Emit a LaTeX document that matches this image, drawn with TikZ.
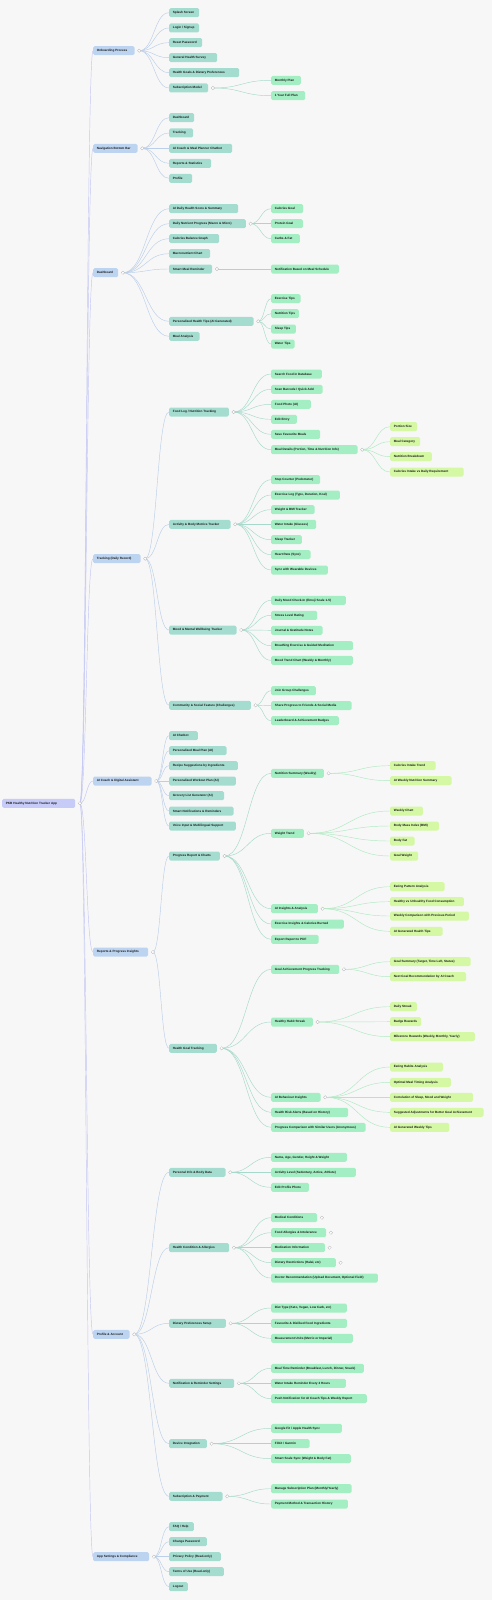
\documentclass[tikz,border=0pt]{standalone}
\usepackage{fontspec}
\setmainfont{Liberation Sans}
\usetikzlibrary{calc}
\definecolor{bgc}{HTML}{F7F7F7}
\definecolor{rootc}{HTML}{C7CBF7}
\definecolor{onec}{HTML}{BDD4F1}
\definecolor{twoc}{HTML}{A4DDD0}
\definecolor{threec}{HTML}{A4EEC3}
\definecolor{fourc}{HTML}{D4F8A4}
\definecolor{lzero}{HTML}{C3C7F4}
\definecolor{lone}{HTML}{BBCFEA}
\definecolor{ltwo}{HTML}{A6D9CB}
\definecolor{lthree}{HTML}{AEE9C2}
\tikzset{
  box/.style={anchor=west, rounded corners=1.5pt, minimum height=9, inner xsep=3.7, inner ysep=0,
    font=\fontsize{3.1}{4}\selectfont\bfseries, text=black!90},
  root/.style={box, fill=rootc},
  lvone/.style={box, fill=onec},
  lvtwo/.style={box, fill=twoc},
  lvthree/.style={box, fill=threec},
  lvfour/.style={box, fill=fourc},
  wd/.style={minimum width=#1,
    execute at begin node={\hbox to \dimexpr#1pt-7.4pt\relax\bgroup},
    execute at end node={\hss\egroup}},
  mm/.style={line width=0.45pt, to path={let \p1=(\tikztostart), \p2=(\tikztotarget) in
    .. controls ({(\x1+\x2)/2},\y1) and ({(\x1+\x2)/2},\y2) .. (\tikztotarget)}},
  lkzero/.style={mm, draw=lzero},
  lkone/.style={mm, draw=lone},
  lktwo/.style={mm, draw=ltwo},
  lkthree/.style={mm, draw=lthree},
  marker/.style={circle, draw=gray!55, fill=white, inner sep=0, minimum size=3.4, line width=0.3}
}
\begin{document}
\begin{tikzpicture}[x=1pt,y=-1pt]
  \fill[bgc] (0,0) rectangle (492,1600);
  \useasboundingbox (0,0) rectangle (492,1600);

  % root
  \node[root, wd=73] (pkb) at (2,803.3) {PKB Healthy Nutrition Tracker App};

  % main branches
  \node[lvone, wd=41.3] (on) at (93,50.7) {Onboarding Process};
  \node[lvone, wd=44.3] (nv) at (93,148.3) {Navigation Bottom Bar};
  \node[lvone, wd=25] (db) at (93,272.7) {Dashboard};
  \node[lvone, wd=47.3] (tr) at (93,558.7) {Tracking (Daily Record)};
  \node[lvone, wd=58.3] (ai) at (93,781) {AI Coach \& Digital Assistant};
  \node[lvone, wd=55] (rp) at (93,952) {Reports \& Progress Insights};
  \node[lvone, wd=36.3] (pf) at (93,1334.3) {Profile \& Account};
  \node[lvone, wd=56] (st) at (93,1556.7) {App Settings \& Compliance};

  % Onboarding
  \node[lvtwo, wd=30] (on1) at (169,12.7) {Splash Screen};
  \node[lvtwo, wd=30] (on2) at (169,28) {Login / Signup};
  \node[lvtwo, wd=33] (on3) at (169,42.7) {Reset Password};
  \node[lvtwo, wd=48] (on4) at (169,57.7) {General Health Survey};
  \node[lvtwo, wd=70] (on5) at (169,72.7) {Health Goals \& Dietary Preferences};
  \node[lvtwo, wd=39] (on6) at (169,88) {Subscription Model};
  \node[lvthree, wd=29.7] (on6a) at (271,80.3) {Monthly Plan};
  \node[lvthree, wd=34] (on6b) at (271,95.7) {1 Year Full Plan};

  % Navigation
  \node[lvtwo, wd=25] (nv1) at (169,117.7) {Dashboard};
  \node[lvtwo, wd=24] (nv2) at (169,133) {Tracking};
  \node[lvtwo, wd=63] (nv3) at (169,148.3) {AI Coach \& Meal Planner Chatbot};
  \node[lvtwo, wd=42] (nv4) at (169,163.3) {Reports \& Statistics};
  \node[lvtwo, wd=23] (nv5) at (169,178.3) {Profile};

  % Dashboard
  \node[lvtwo, wd=69] (db1) at (169,208.7) {AI Daily Health Score \& Summary};
  \node[lvtwo, wd=76.7] (db2) at (169,223.7) {Daily Nutrient Progress (Macro \& Micro)};
  \node[lvthree, wd=32] (db2a) at (271,208.7) {Calories Goal};
  \node[lvthree, wd=31.7] (db2b) at (271,223.7) {Protein Goal};
  \node[lvthree, wd=28.7] (db2c) at (271,238.7) {Carbs \& Fat};
  \node[lvtwo, wd=50] (db3) at (169,238.7) {Calories Balance Graph};
  \node[lvtwo, wd=41] (db4) at (169,253.7) {Macronutrient Chart};
  \node[lvtwo, wd=43] (db5) at (169,269) {Smart Meal Reminder};
  \node[lvthree, wd=67.7] (db5a) at (271,269) {Notification Based on Meal Schedule};
  \node[lvtwo, wd=84.3] (db6) at (169,321.3) {Personalized Health Tips (AI Generated)};
  \node[lvthree, wd=29.3] (db6a) at (271,298.7) {Exercise Tips};
  \node[lvthree, wd=27.7] (db6b) at (271,313.7) {Nutrition Tips};
  \node[lvthree, wd=24.7] (db6c) at (271,329) {Sleep Tips};
  \node[lvthree, wd=23.3] (db6d) at (271,344) {Water Tips};
  \node[lvtwo, wd=30.3] (db7) at (169,336.3) {Meal Analysis};

  % Tracking
  \node[lvtwo, wd=59.7] (tr1) at (169,412) {Food Log / Nutrition Tracking};
  \node[lvthree, wd=50.7] (tr1a) at (271,374) {Search Food in Database};
  \node[lvthree, wd=51.3] (tr1b) at (271,389.3) {Scan Barcode / Quick Add};
  \node[lvthree, wd=39.7] (tr1c) at (271,404.3) {Food Photo (AI)};
  \node[lvthree, wd=25.7] (tr1d) at (271,419.3) {Edit Entry};
  \node[lvthree, wd=49] (tr1e) at (271,434.3) {Save Favourite Meals};
  \node[lvthree, wd=86.3] (tr1f) at (271,449.7) {Meal Details (Portion, Time \& Nutrition Info)};
  \node[lvfour, wd=27] (tr1f1) at (390,426.7) {Portion Size};
  \node[lvfour, wd=30] (tr1f2) at (390,441.7) {Meal Category};
  \node[lvfour, wd=41.7] (tr1f3) at (390,456.7) {Nutrition Breakdown};
  \node[lvfour, wd=73.3] (tr1f4) at (390,472) {Calories Intake vs Daily Requirement};
  \node[lvtwo, wd=61.3] (tr2) at (169,524.3) {Activity \& Body Metrics Tracker};
  \node[lvthree, wd=49] (tr2a) at (271,479.7) {Step Counter (Pedometer)};
  \node[lvthree, wd=68.7] (tr2b) at (271,495) {Exercise Log (Type, Duration, Kcal)};
  \node[lvthree, wd=43.3] (tr2c) at (271,509.7) {Weight \& BMI Tracker};
  \node[lvthree, wd=45] (tr2d) at (271,524.3) {Water Intake (Glasses)};
  \node[lvthree, wd=30.7] (tr2e) at (271,539.7) {Sleep Tracker};
  \node[lvthree, wd=39.3] (tr2f) at (271,554.7) {Heart Rate (Sync)};
  \node[lvthree, wd=56.7] (tr2g) at (271,570) {Sync with Wearable Devices};
  \node[lvtwo, wd=67.3] (tr3) at (169,630) {Mood \& Mental Wellbeing Tracker};
  \node[lvthree, wd=74.7] (tr3a) at (271,600.3) {Daily Mood Check-In (Emoji Scale 1-5)};
  \node[lvthree, wd=46] (tr3b) at (271,615.3) {Stress Level Rating};
  \node[lvthree, wd=51.3] (tr3c) at (271,630.3) {Journal \& Gratitude Notes};
  \node[lvthree, wd=81.7] (tr3d) at (271,645.7) {Breathing Exercise \& Guided Meditation};
  \node[lvthree, wd=81.7] (tr3e) at (271,660.3) {Mood Trend Chart (Weekly \& Monthly)};
  \node[lvtwo, wd=81.7] (tr4) at (169,705.3) {Community \& Social Feature (Challenges)};
  \node[lvthree, wd=44.7] (tr4a) at (271,690.7) {Join Group Challenges};
  \node[lvthree, wd=80.3] (tr4b) at (271,705.7) {Share Progress to Friends \& Social Media};
  \node[lvthree, wd=67.7] (tr4c) at (271,720.7) {Leaderboard \& Achievement Badges};

  % AI Coach
  \node[lvtwo, wd=28.7] (ai1) at (169,735.7) {AI Chatbot};
  \node[lvtwo, wd=57.3] (ai2) at (169,750.7) {Personalized Meal Plan (AI)};
  \node[lvtwo, wd=68.7] (ai3) at (169,765.7) {Recipe Suggestions by Ingredients};
  \node[lvtwo, wd=66.7] (ai4) at (169,781) {Personalized Workout Plan (AI)};
  \node[lvtwo, wd=55] (ai5) at (169,795.7) {Grocery List Generator (AI)};
  \node[lvtwo, wd=64.3] (ai6) at (169,811) {Smart Notifications \& Reminders};
  \node[lvtwo, wd=66.7] (ai7) at (169,826) {Voice Input \& Multilingual Support};

  % Reports
  \node[lvtwo, wd=50.7] (rp1) at (169,856) {Progress Report \& Charts};
  \node[lvthree, wd=52.7] (rp1a) at (271,773.3) {Nutrition Summary (Weekly)};
  \node[lvfour, wd=45.3] (rp1a1) at (390,765.7) {Calories Intake Trend};
  \node[lvfour, wd=61.3] (rp1a2) at (390,780.7) {AI Weekly Nutrition Summary};
  \node[lvthree, wd=32.7] (rp1b) at (271,833.3) {Weight Trend};
  \node[lvfour, wd=32.7] (rp1b1) at (390,811) {Weekly Chart};
  \node[lvfour, wd=48.7] (rp1b2) at (390,826) {Body Mass Index (BMI)};
  \node[lvfour, wd=24.3] (rp1b3) at (390,841) {Body Fat};
  \node[lvfour, wd=28] (rp1b4) at (390,856) {Goal Weight};
  \node[lvthree, wd=46.7] (rp1c) at (271,908.7) {AI Insights \& Analysis};
  \node[lvfour, wd=54.3] (rp1c1) at (390,886.7) {Eating Pattern Analysis};
  \node[lvfour, wd=73.7] (rp1c2) at (390,901.7) {Healthy vs Unhealthy Food Consumption};
  \node[lvfour, wd=78.7] (rp1c3) at (390,916) {Weekly Comparison with Previous Period};
  \node[lvfour, wd=52.3] (rp1c4) at (390,931.3) {AI Generated Health Tips};
  \node[lvthree, wd=72.7] (rp1d) at (271,924) {Exercise Insights \& Calories Burned};
  \node[lvthree, wd=47.3] (rp1e) at (271,939.3) {Export Report to PDF};
  \node[lvtwo, wd=47.7] (rp2) at (169,1048.3) {Health Goal Tracking};
  \node[lvthree, wd=68] (rp2a) at (271,969.3) {Goal Achievement Progress Tracking};
  \node[lvfour, wd=80.3] (rp2a1) at (390,961.7) {Goal Summary (Target, Time Left, Status)};
  \node[lvfour, wd=76] (rp2a2) at (390,976.7) {Next Goal Recommendation by AI Coach};
  \node[lvthree, wd=41.7] (rp2b) at (271,1022) {Healthy Habit Streak};
  \node[lvfour, wd=26.7] (rp2b1) at (390,1006.7) {Daily Streak};
  \node[lvfour, wd=31] (rp2b2) at (390,1021.7) {Badge Rewards};
  \node[lvfour, wd=84.7] (rp2b3) at (390,1036.7) {Milestone Rewards (Weekly, Monthly, Yearly)};
  \node[lvthree, wd=49.3] (rp2c) at (271,1097.3) {AI Behaviour Insights};
  \node[lvfour, wd=52.7] (rp2c1) at (390,1067) {Eating Habits Analysis};
  \node[lvfour, wd=60.7] (rp2c2) at (390,1082.3) {Optimal Meal Timing Analysis};
  \node[lvfour, wd=82.7] (rp2c3) at (390,1097.3) {Correlation of Sleep, Mood and Weight};
  \node[lvfour, wd=93.3] (rp2c4) at (390,1112.3) {Suggested Adjustments for Better Goal Achievement};
  \node[lvfour, wd=59] (rp2c5) at (390,1127.3) {AI Generated Weekly Tips};
  \node[lvthree, wd=77] (rp2d) at (271,1112.3) {Health Risk Alerts (Based on History)};
  \node[lvthree, wd=94.3] (rp2e) at (271,1127.3) {Progress Comparison with Similar Users (Anonymous)};

  % Profile
  \node[lvtwo, wd=56.3] (pf1) at (169,1172.3) {Personal Info \& Body Data};
  \node[lvthree, wd=75.7] (pf1a) at (271,1157.3) {Name, Age, Gender, Height \& Weight};
  \node[lvthree, wd=84.7] (pf1b) at (271,1172.3) {Activity Level (Sedentary, Active, Athlete)};
  \node[lvthree, wd=37.7] (pf1c) at (271,1187.3) {Edit Profile Photo};
  \node[lvtwo, wd=60] (pf2) at (169,1247.7) {Health Condition \& Allergies};
  \node[lvthree, wd=46] (pf2a) at (271,1217.7) {Medical Conditions};
  \node[lvthree, wd=55] (pf2b) at (271,1232.7) {Food Allergies \& Intolerance};
  \node[lvthree, wd=53.7] (pf2c) at (271,1247.7) {Medication Information};
  \node[lvthree, wd=64.7] (pf2d) at (271,1262.7) {Dietary Restrictions (Halal, etc)};
  \node[lvthree, wd=106.7] (pf2e) at (271,1278) {Doctor Recommendation (Upload Document, Optional Field)};
  \node[lvtwo, wd=56.7] (pf3) at (169,1323.3) {Dietary Preferences Setup};
  \node[lvthree, wd=75.7] (pf3a) at (271,1308) {Diet Type (Keto, Vegan, Low Carb, etc)};
  \node[lvthree, wd=75.7] (pf3b) at (271,1323.3) {Favourite \& Disliked Food Ingredients};
  \node[lvthree, wd=81.7] (pf3c) at (271,1338.3) {Measurement Units (Metric or Imperial)};
  \node[lvtwo, wd=65] (pf4) at (169,1383.3) {Notification \& Reminder Settings};
  \node[lvthree, wd=92.7] (pf4a) at (271,1368.3) {Meal Time Reminder (Breakfast, Lunch, Dinner, Snack)};
  \node[lvthree, wd=74.7] (pf4b) at (271,1383.3) {Water Intake Reminder Every 2 Hours};
  \node[lvthree, wd=95.7] (pf4c) at (271,1398.7) {Push Notification for AI Coach Tips \& Weekly Report};
  \node[lvtwo, wd=37.7] (pf5) at (169,1443.7) {Device Integration};
  \node[lvthree, wd=70.7] (pf5a) at (271,1428.3) {Google Fit / Apple Health Sync};
  \node[lvthree, wd=38.3] (pf5b) at (271,1443.7) {Fitbit / Garmin};
  \node[lvthree, wd=79.7] (pf5c) at (271,1458.7) {Smart Scale Sync (Weight \& Body Fat)};
  \node[lvtwo, wd=53.3] (pf6) at (169,1496.3) {Subscription \& Payment};
  \node[lvthree, wd=80.3] (pf6a) at (271,1488.7) {Manage Subscription Plan (Monthly/Yearly)};
  \node[lvthree, wd=76.7] (pf6b) at (271,1504) {Payment Method \& Transaction History};

  % Settings
  \node[lvtwo, wd=24.7] (st1) at (169,1526.7) {FAQ / Help};
  \node[lvtwo, wd=37.7] (st2) at (169,1541.7) {Change Password};
  \node[lvtwo, wd=51.7] (st3) at (169,1556.7) {Privacy Policy (Read-only)};
  \node[lvtwo, wd=54.7] (st4) at (169,1571.7) {Terms of Use (Read-only)};
  \node[lvtwo, wd=18.7] (st5) at (169,1586.7) {Logout};

  % collapse points
  \foreach \p in {pkb,on,nv,db,tr,ai,rp,pf,st,on6,db2,db5,db6,tr1,tr1f,tr2,tr3,tr4,
      rp1,rp1a,rp1b,rp1c,rp2,rp2a,rp2b,rp2c,pf1,pf2,pf2a,pf2b,pf2c,pf2d,pf3,pf4,pf5,pf6}
    \coordinate (\p-mk) at ([xshift=4.5]\p.east);

  % links
  \foreach \c in {on,nv,db,tr,ai,rp,pf,st} \draw[lkzero] (pkb-mk) to (\c.west);
  \foreach \c in {on1,on2,on3,on4,on5,on6} \draw[lkone] (on-mk) to (\c.west);
  \foreach \c in {nv1,nv2,nv3,nv4,nv5} \draw[lkone] (nv-mk) to (\c.west);
  \foreach \c in {db1,db2,db3,db4,db5,db6,db7} \draw[lkone] (db-mk) to (\c.west);
  \foreach \c in {tr1,tr2,tr3,tr4} \draw[lkone] (tr-mk) to (\c.west);
  \foreach \c in {ai1,ai2,ai3,ai4,ai5,ai6,ai7} \draw[lkone] (ai-mk) to (\c.west);
  \foreach \c in {rp1,rp2} \draw[lkone] (rp-mk) to (\c.west);
  \foreach \c in {pf1,pf2,pf3,pf4,pf5,pf6} \draw[lkone] (pf-mk) to (\c.west);
  \foreach \c in {st1,st2,st3,st4,st5} \draw[lkone] (st-mk) to (\c.west);
  \foreach \c in {on6a,on6b} \draw[lktwo] (on6-mk) to (\c.west);
  \foreach \c in {db2a,db2b,db2c} \draw[lktwo] (db2-mk) to (\c.west);
  \draw[lktwo] (db5-mk) to (db5a.west);
  \foreach \c in {db6a,db6b,db6c,db6d} \draw[lktwo] (db6-mk) to (\c.west);
  \foreach \c in {tr1a,tr1b,tr1c,tr1d,tr1e,tr1f} \draw[lktwo] (tr1-mk) to (\c.west);
  \foreach \c in {tr1f1,tr1f2,tr1f3,tr1f4} \draw[lkthree] (tr1f-mk) to (\c.west);
  \foreach \c in {tr2a,tr2b,tr2c,tr2d,tr2e,tr2f,tr2g} \draw[lktwo] (tr2-mk) to (\c.west);
  \foreach \c in {tr3a,tr3b,tr3c,tr3d,tr3e} \draw[lktwo] (tr3-mk) to (\c.west);
  \foreach \c in {tr4a,tr4b,tr4c} \draw[lktwo] (tr4-mk) to (\c.west);
  \foreach \c in {rp1a,rp1b,rp1c,rp1d,rp1e} \draw[lktwo] (rp1-mk) to (\c.west);
  \foreach \c in {rp1a1,rp1a2} \draw[lkthree] (rp1a-mk) to (\c.west);
  \foreach \c in {rp1b1,rp1b2,rp1b3,rp1b4} \draw[lkthree] (rp1b-mk) to (\c.west);
  \foreach \c in {rp1c1,rp1c2,rp1c3,rp1c4} \draw[lkthree] (rp1c-mk) to (\c.west);
  \foreach \c in {rp2a,rp2b,rp2c,rp2d,rp2e} \draw[lktwo] (rp2-mk) to (\c.west);
  \foreach \c in {rp2a1,rp2a2} \draw[lkthree] (rp2a-mk) to (\c.west);
  \foreach \c in {rp2b1,rp2b2,rp2b3} \draw[lkthree] (rp2b-mk) to (\c.west);
  \foreach \c in {rp2c1,rp2c2,rp2c3,rp2c4,rp2c5} \draw[lkthree] (rp2c-mk) to (\c.west);
  \foreach \c in {pf1a,pf1b,pf1c} \draw[lktwo] (pf1-mk) to (\c.west);
  \foreach \c in {pf2a,pf2b,pf2c,pf2d,pf2e} \draw[lktwo] (pf2-mk) to (\c.west);
  \foreach \c in {pf3a,pf3b,pf3c} \draw[lktwo] (pf3-mk) to (\c.west);
  \foreach \c in {pf4a,pf4b,pf4c} \draw[lktwo] (pf4-mk) to (\c.west);
  \foreach \c in {pf5a,pf5b,pf5c} \draw[lktwo] (pf5-mk) to (\c.west);
  \foreach \c in {pf6a,pf6b} \draw[lktwo] (pf6-mk) to (\c.west);

  % markers on top
  \foreach \p in {pkb,on,nv,db,tr,ai,rp,pf,st,on6,db2,db5,db6,tr1,tr1f,tr2,tr3,tr4,
      rp1,rp1a,rp1b,rp1c,rp2,rp2a,rp2b,rp2c,pf1,pf2,pf2a,pf2b,pf2c,pf2d,pf3,pf4,pf5,pf6}
    \node[marker] at (\p-mk) {};
\end{tikzpicture}
\end{document}
